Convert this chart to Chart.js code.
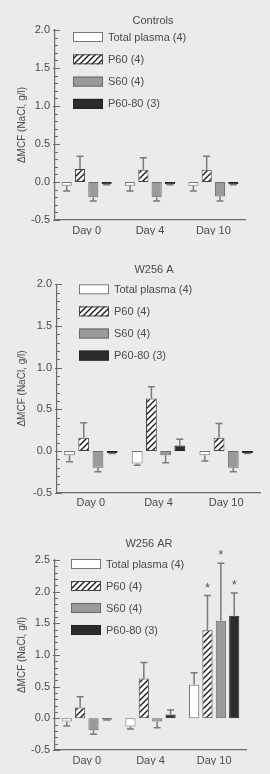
<!DOCTYPE html>
<html>
<head>
<meta charset="utf-8">
<script src="https://cdn.jsdelivr.net/npm/chart.js@4.4.1/dist/chart.umd.min.js"></script>
<style>
  html, body { margin: 0; padding: 0; background: #ebebeb; }
  body { width: 270px; height: 774px; position: relative; overflow: hidden; }
  .panel { position: absolute; left: 0; width: 270px; }
</style>
</head>
<body>
<div class="panel" style="top:0;height:255px"><canvas id="chart-controls" width="270" height="255"></canvas></div>
<div class="panel" style="top:255px;height:255px"><canvas id="chart-a" width="270" height="255"></canvas></div>
<div class="panel" style="top:510px;height:264px"><canvas id="chart-ar" width="270" height="264"></canvas></div>
<script>
const days = ['Day 0', 'Day 4', 'Day 10'];
const seriesNames = ['Total plasma (4)', 'P60 (4)', 'S60 (4)', 'P60-80 (3)'];

// Controls: means and SEM
const ctrlTotal = [-0.05, -0.05, -0.05];
const ctrlTotalSem = [0.07, 0.07, 0.07];
const ctrlP60 = [0.17, 0.16, 0.16];
const ctrlP60Sem = [0.17, 0.16, 0.18];
const ctrlS60 = [-0.20, -0.20, -0.19];
const ctrlS60Sem = [0.05, 0.05, 0.06];
const ctrlP6080 = [-0.03, -0.03, -0.03];
const ctrlP6080Sem = [0.005, 0.005, 0.005];

// W256 A
const aTotal = [-0.05, -0.15, -0.05];
const aTotalSem = [0.08, 0.02, 0.07];
const aP60 = [0.16, 0.63, 0.16];
const aP60Sem = [0.18, 0.14, 0.17];
const aS60 = [-0.20, -0.05, -0.20];
const aS60Sem = [0.05, 0.09, 0.05];
const aP6080 = [-0.025, 0.065, -0.025];
const aP6080Sem = [0.005, 0.075, 0.005];

// W256 AR
const arTotal = [-0.05, -0.13, 0.53];
const arTotalSem = [0.07, 0.04, 0.19];
const arP60 = [0.17, 0.63, 1.39];
const arP60Sem = [0.17, 0.25, 0.55];
const arS60 = [-0.19, -0.05, 1.54];
const arS60Sem = [0.06, 0.10, 0.91];
const arP6080 = [-0.02, 0.06, 1.62];
const arP6080Sem = [0.005, 0.07, 0.36];
// significance markers (*) per series, per day
const arTotalSig = [false, false, false];
const arP60Sig = [false, false, true];
const arS60Sig = [false, false, true];
const arP6080Sig = [false, false, true];

const controlsTicks = { min: -0.5, max: 2.0 };
const aTicks = { min: -0.5, max: 2.0 };
const arTicks = { min: -0.5, max: 2.5 };

const TEXT = '#4a4a4a';
const AXIS = '#6a6a6a';
const FONT = '"Liberation Sans", Arial, sans-serif';

function makeHatch() {
  const c = document.createElement('canvas');
  c.width = 6; c.height = 6;
  const g = c.getContext('2d');
  g.fillStyle = '#ffffff';
  g.fillRect(0, 0, 6, 6);
  g.strokeStyle = '#1a1a1a';
  g.lineWidth = 1.4;
  g.beginPath();
  g.moveTo(-1, 7); g.lineTo(7, -1);
  g.moveTo(-1, 1); g.lineTo(1, -1);
  g.moveTo(5, 7); g.lineTo(7, 5);
  g.stroke();
  return g.createPattern(c, 'repeat');
}

// minor/major tick marks on the inside of the y axis
const axisTicks = {
  id: 'axisTicks',
  afterDraw(chart) {
    const y = chart.scales.y;
    const left = chart.chartArea.left;
    const ctx = chart.ctx;
    ctx.save();
    ctx.strokeStyle = AXIS;
    ctx.lineWidth = 1;
    y.ticks.forEach(function (t) {
      const py = Math.round(y.getPixelForValue(t.value)) + 0.5;
      const major = Math.round(t.value * 10) % 5 === 0;
      ctx.beginPath();
      ctx.moveTo(left - (major ? 2 : 0), py);
      ctx.lineTo(left + (major ? 5 : 3), py);
      ctx.stroke();
    });
    ctx.restore();
  }
};

// one-sided SEM bars plus asterisks
const errorBars = {
  id: 'errorBars',
  afterDatasetsDraw(chart) {
    const ctx = chart.ctx;
    const y = chart.scales.y;
    ctx.save();
    ctx.strokeStyle = '#7a7a7a';
    ctx.lineWidth = 1.5;
    chart.data.datasets.forEach(function (ds, i) {
      const meta = chart.getDatasetMeta(i);
      meta.data.forEach(function (bar, j) {
        const v = ds.data[j];
        const end = v >= 0 ? v + ds.sem[j] : v - ds.sem[j];
        const y1 = y.getPixelForValue(v);
        const y2 = y.getPixelForValue(end);
        ctx.beginPath();
        ctx.moveTo(bar.x, y1);
        ctx.lineTo(bar.x, y2);
        ctx.moveTo(bar.x - 3.5, y2);
        ctx.lineTo(bar.x + 3.5, y2);
        ctx.stroke();
        if (ds.sig && ds.sig[j]) {
          ctx.fillStyle = TEXT;
          ctx.font = '12px ' + FONT;
          ctx.textAlign = 'center';
          ctx.textBaseline = 'bottom';
          ctx.fillText('*', bar.x, y2 - 1);
        }
      });
    });
    ctx.restore();
  }
};

// title and legend drawn inside the plot area
const panelDecor = {
  id: 'panelDecor',
  afterDraw(chart, args, opts) {
    const ctx = chart.ctx;
    ctx.save();
    ctx.fillStyle = TEXT;
    ctx.font = '11px ' + FONT;
    ctx.textAlign = 'center';
    ctx.textBaseline = 'middle';
    ctx.fillText(opts.title, opts.titleX, opts.titleY);
    chart.data.datasets.forEach(function (ds, i) {
      const cy = opts.legendY + i * opts.legendGap;
      ctx.fillStyle = ds.backgroundColor;
      ctx.fillRect(opts.legendX, cy - 5, 30, 10);
      ctx.strokeStyle = ds.borderColor;
      ctx.lineWidth = 1;
      ctx.strokeRect(opts.legendX + 0.5, cy - 4.5, 29, 9);
      ctx.fillStyle = TEXT;
      ctx.textAlign = 'left';
      ctx.fillText(ds.label, opts.legendX + 35, cy + 0.5);
    });
    ctx.restore();
  }
};

function buildChart(id, series, ticks, geo) {
  const hatch = makeHatch();
  const fills = ['#ffffff', hatch, '#9a9a9a', '#2b2b2f'];
  const borders = ['#777777', '#444444', '#6a6a6a', '#222222'];
  const canvas = document.getElementById(id);
  return new Chart(canvas.getContext('2d'), {
    type: 'bar',
    data: {
      labels: days,
      datasets: series.map(function (s, i) {
        return {
          label: seriesNames[i],
          data: s.values,
          sem: s.sem,
          sig: s.sig,
          backgroundColor: fills[i],
          borderColor: borders[i],
          borderWidth: 1,
          borderSkipped: false,
          categoryPercentage: 0.84,
          barPercentage: 0.76
        };
      })
    },
    options: {
      responsive: false,
      animation: false,
      layout: {
        padding: { top: geo.top, left: 0, right: 270 - geo.right, bottom: canvas.height - geo.bottom - 15 }
      },
      plugins: {
        legend: { display: false },
        tooltip: { enabled: false },
        panelDecor: geo.decor
      },
      scales: {
        x: {
          grid: { display: false, drawTicks: false },
          border: { display: true, color: AXIS, width: 1.2 },
          ticks: { color: TEXT, font: { family: FONT, size: 11 }, padding: 4 },
          afterFit: function (scale) { scale.height = 15; }
        },
        y: {
          min: ticks.min,
          max: ticks.max,
          grid: { display: false, drawTicks: false },
          border: { display: true, color: AXIS, width: 1.2 },
          ticks: {
            stepSize: 0.1,
            autoSkip: false,
            color: TEXT,
            padding: 5,
            font: { family: FONT, size: 11 },
            callback: function (v) {
              const k = Math.round(v * 10);
              if (k % 5 !== 0) return '';
              return (k / 10).toFixed(1);
            }
          },
          title: {
            display: true,
            text: '\u0394MCF (NaCl, g/l)',
            color: TEXT,
            font: { family: FONT, size: 10 },
            padding: { top: 16, bottom: 0 }
          },
          afterFit: function (scale) { scale.width = geo.left; }
        }
      }
    },
    plugins: [axisTicks, errorBars, panelDecor]
  });
}

window.addEventListener('DOMContentLoaded', function () {
  buildChart('chart-controls', [
    { values: ctrlTotal, sem: ctrlTotalSem },
    { values: ctrlP60, sem: ctrlP60Sem },
    { values: ctrlS60, sem: ctrlS60Sem },
    { values: ctrlP6080, sem: ctrlP6080Sem }
  ], controlsTicks, {
    top: 30, bottom: 220, left: 55, right: 245,
    decor: { title: 'Controls', titleX: 153, titleY: 21, legendX: 73, legendY: 37, legendGap: 22.3 }
  });

  buildChart('chart-a', [
    { values: aTotal, sem: aTotalSem },
    { values: aP60, sem: aP60Sem },
    { values: aS60, sem: aS60Sem },
    { values: aP6080, sem: aP6080Sem }
  ], aTicks, {
    top: 29.3, bottom: 237.7, left: 57, right: 260,
    decor: { title: 'W256 A', titleX: 154, titleY: 15, legendX: 79, legendY: 34.3, legendGap: 22.1 }
  });

  buildChart('chart-ar', [
    { values: arTotal, sem: arTotalSem, sig: arTotalSig },
    { values: arP60, sem: arP60Sem, sig: arP60Sig },
    { values: arS60, sem: arS60Sem, sig: arS60Sig },
    { values: arP6080, sem: arP6080Sem, sig: arP6080Sig }
  ], arTicks, {
    top: 50, bottom: 240, left: 55, right: 246,
    decor: { title: 'W256 AR', titleX: 149, titleY: 34, legendX: 71, legendY: 54, legendGap: 22 }
  });
});
</script>
</body>
</html>
